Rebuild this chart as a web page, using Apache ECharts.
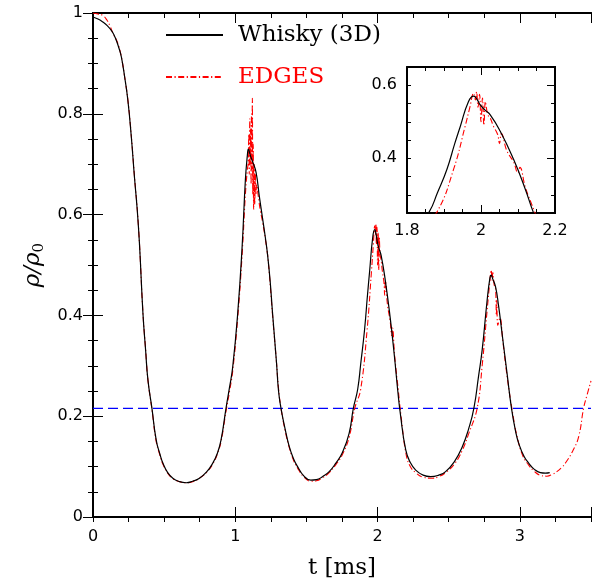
<!DOCTYPE html>
<html>
<head>
<meta charset="utf-8">
<script src="https://cdn.jsdelivr.net/npm/echarts@6/dist/echarts.min.js"></script>
<style>
html,body{margin:0;padding:0;background:#fff;}
#chart{width:598px;height:587px;}
</style>
</head>
<body>
<div id="chart"></div>
<script>
// ---- data (t in ms, rho/rho0) ----
const whiskyT = [0.000,0.035,0.070,0.100,0.130,0.150,0.165,0.185,0.200,0.222,0.245,0.269,0.292,0.311,0.327,0.351,0.370,0.386,0.414,0.444,0.470,0.491,0.525,0.561,0.600,0.655,0.700,0.748,0.800,0.842,0.875,0.900,0.935,0.960,0.982,1.017,1.048,1.071,1.085,1.092,1.105,1.122,1.146,1.169,1.192,1.211,1.227,1.245,1.262,1.290,1.304,1.321,1.350,1.379,1.410,1.438,1.480,1.531,1.570,1.613,1.660,1.707,1.753,1.800,1.830,1.860,1.882,1.908,1.929,1.944,1.966,1.980,1.990,1.998,2.011,2.025,2.052,2.088,2.118,2.141,2.160,2.198,2.230,2.268,2.320,2.373,2.430,2.478,2.540,2.595,2.640,2.677,2.710,2.735,2.770,2.790,2.798,2.810,2.829,2.850,2.875,2.910,2.941,2.970,2.992,3.030,3.062,3.100,3.144,3.180,3.210];
const whiskyRho = [0.992,0.988,0.982,0.975,0.965,0.955,0.945,0.928,0.912,0.874,0.827,0.755,0.672,0.609,0.540,0.404,0.330,0.272,0.216,0.153,0.125,0.107,0.088,0.077,0.071,0.068,0.071,0.077,0.090,0.107,0.127,0.153,0.216,0.258,0.298,0.404,0.536,0.669,0.718,0.730,0.718,0.705,0.684,0.636,0.592,0.555,0.520,0.468,0.404,0.305,0.250,0.216,0.175,0.140,0.115,0.100,0.082,0.073,0.074,0.080,0.090,0.107,0.128,0.166,0.216,0.253,0.305,0.370,0.440,0.487,0.555,0.570,0.560,0.546,0.532,0.519,0.474,0.397,0.320,0.253,0.205,0.133,0.108,0.093,0.083,0.080,0.083,0.090,0.110,0.139,0.175,0.216,0.280,0.331,0.430,0.475,0.480,0.472,0.457,0.420,0.364,0.285,0.216,0.170,0.146,0.120,0.107,0.095,0.088,0.087,0.088];

const edgesT = [0.000,0.035,0.070,0.100,0.117,0.140,0.165,0.180,0.200,0.222,0.245,0.269,0.292,0.311,0.327,0.351,0.370,0.386,0.414,0.444,0.470,0.491,0.525,0.561,0.600,0.655,0.700,0.748,0.800,0.842,0.875,0.900,0.935,0.960,0.982,1.017,1.048,1.071,1.085,1.090,1.095,1.098,1.102,1.105,1.108,1.111,1.114,1.117,1.120,1.123,1.126,1.129,1.133,1.137,1.141,1.146,1.150,1.160,1.175,1.192,1.211,1.230,1.262,1.290,1.304,1.321,1.350,1.379,1.410,1.438,1.480,1.531,1.570,1.613,1.660,1.707,1.753,1.800,1.840,1.881,1.926,1.957,1.970,1.980,1.985,1.988,1.992,1.996,2.000,2.004,2.008,2.012,2.018,2.025,2.034,2.045,2.050,2.055,2.070,2.088,2.100,2.105,2.120,2.145,2.165,2.200,2.230,2.268,2.320,2.384,2.430,2.478,2.540,2.595,2.640,2.700,2.735,2.770,2.790,2.798,2.805,2.810,2.820,2.829,2.835,2.838,2.845,2.860,2.880,2.910,2.950,2.980,3.020,3.062,3.100,3.140,3.190,3.230,3.260,3.300,3.320,3.370,3.413,3.448,3.470,3.500];
const edgesRho = [1.000,0.998,0.995,0.985,0.976,0.960,0.946,0.935,0.912,0.874,0.828,0.757,0.674,0.611,0.540,0.405,0.332,0.272,0.214,0.150,0.123,0.105,0.087,0.076,0.071,0.068,0.070,0.077,0.089,0.105,0.126,0.150,0.210,0.250,0.290,0.395,0.520,0.640,0.690,0.700,0.760,0.680,0.790,0.700,0.770,0.660,0.800,0.690,0.831,0.640,0.740,0.610,0.700,0.620,0.680,0.640,0.660,0.640,0.610,0.585,0.552,0.512,0.400,0.305,0.255,0.216,0.172,0.138,0.112,0.097,0.080,0.071,0.072,0.078,0.088,0.104,0.124,0.158,0.216,0.253,0.370,0.487,0.540,0.578,0.560,0.582,0.540,0.575,0.500,0.565,0.490,0.555,0.520,0.510,0.487,0.465,0.440,0.468,0.420,0.390,0.360,0.375,0.320,0.253,0.200,0.125,0.100,0.088,0.079,0.077,0.080,0.088,0.105,0.132,0.165,0.216,0.300,0.410,0.470,0.490,0.470,0.485,0.460,0.455,0.400,0.430,0.380,0.395,0.350,0.280,0.205,0.160,0.122,0.103,0.091,0.083,0.081,0.085,0.090,0.100,0.107,0.130,0.159,0.216,0.240,0.270];

const thresholdT = [0, 3.5];
const thresholdRho = [0.2155, 0.2155];

const mainXTicks = [0, 1, 2, 3];
const insetYLabels = [0.4, 0.6];

const zip = (a, b) => a.map((t, i) => [t, b[i]]);
const whisky = zip(whiskyT, whiskyRho);
const edges = zip(edgesT, edgesRho);
const threshold = zip(thresholdT, thresholdRho);

const labelFont = {fontFamily: 'DejaVu Sans', fontSize: 16, color: '#000'};
const frame = {show: true, lineStyle: {color: '#000', width: 2}};
const near = (v, arr) => arr.some(a => Math.abs(a - v) < 1e-6);

function xAx(o) {
  return Object.assign({
    type: 'value', gridIndex: 0, min: 0, max: 3.5,
    axisLine: frame, splitLine: {show: false},
    axisTick: {show: true, inside: true, length: 10, lineStyle: {color: '#000', width: 1}},
    axisLabel: {show: false}
  }, o);
}
function yAx(o) {
  return Object.assign({
    type: 'value', gridIndex: 0, min: 0, max: 1,
    axisLine: frame, splitLine: {show: false},
    axisTick: {show: true, inside: true, length: 10, lineStyle: {color: '#000', width: 1}},
    axisLabel: {show: false}
  }, o);
}

const redStyle = {color: '#ff0000', width: 1.1, type: [6, 2.5, 1.2, 2.5]};
const blackStyle = {color: '#000', width: 1.2};

const chart = echarts.init(document.getElementById('chart'), null, {renderer: 'canvas'});
chart.setOption({
  animation: false,
  backgroundColor: '#fff',
  grid: [
    {left: 93, top: 13, width: 498, height: 504},
    {left: 407, top: 67, width: 148, height: 146}
  ],
  legend: {
    orient: 'vertical', left: 165, top: 22, padding: 0, itemWidth: 57, itemHeight: 14, itemGap: 16,
    itemStyle: {opacity: 0},
    textStyle: {fontFamily: 'DejaVu Serif', fontSize: 23, lineHeight: 26, color: '#000', padding: [0, 0, 0, 10]},
    data: [
      {name: 'Whisky (3D)'},
      {name: 'EDGES', textStyle: {color: '#ff0000'}}
    ]
  },
  xAxis: [
    xAx({interval: 1, axisLabel: Object.assign({show: true, margin: 12, formatter: v => near(v, mainXTicks) ? String(v) : ''}, labelFont),
      name: 't [ms]', nameLocation: 'middle', nameGap: 40,
      nameTextStyle: {fontFamily: 'DejaVu Serif', fontSize: 23, color: '#000'}}),
    xAx({interval: 0.25, axisTick: {show: true, inside: true, length: 5, lineStyle: {color: '#000'}}}),
    xAx({position: 'top', interval: 1}),
    xAx({position: 'top', interval: 0.25, axisTick: {show: true, inside: true, length: 5, lineStyle: {color: '#000'}}}),
    // inset
    xAx({gridIndex: 1, min: 1.8, max: 2.2, interval: 0.2, axisTick: {show: true, inside: true, length: 8, lineStyle: {color: '#000'}},
      minorTick: {show: true, splitNumber: 4, length: 4, lineStyle: {color: '#000'}},
      axisLabel: Object.assign({show: true, margin: 10}, labelFont)}),
    xAx({gridIndex: 1, position: 'top', min: 1.8, max: 2.2, interval: 0.2, axisTick: {show: true, inside: true, length: 8, lineStyle: {color: '#000'}},
      minorTick: {show: true, splitNumber: 4, length: 4, lineStyle: {color: '#000'}}})
  ],
  yAxis: [
    yAx({interval: 0.2, minorTick: {show: true, splitNumber: 4, length: 5, lineStyle: {color: '#000'}},
      axisLabel: Object.assign({show: true, margin: 10}, labelFont),
      name: '{a|ρ/ρ}{b|0}', nameLocation: 'middle', nameGap: 45, nameRotate: 90,
      nameTextStyle: {rich: {
        a: {fontFamily: 'DejaVu Serif', fontSize: 23, fontStyle: 'italic', color: '#000', lineHeight: 30, verticalAlign: 'middle'},
        b: {fontFamily: 'DejaVu Serif', fontSize: 15, color: '#000', lineHeight: 30, padding: [12, 0, 0, 0], verticalAlign: 'middle'}
      }}}),
    yAx({position: 'right', interval: 0.2, minorTick: {show: true, splitNumber: 4, length: 5, lineStyle: {color: '#000'}}}),
    // inset
    yAx({gridIndex: 1, min: 0.25, max: 0.65, interval: 0.05,
      axisTick: {show: true, inside: true, length: 4, lineStyle: {color: '#000'}},
      axisLabel: Object.assign({show: true, margin: 10, formatter: v => near(v, insetYLabels) ? String(Math.round(v * 10) / 10) : ''}, labelFont)}),
    yAx({gridIndex: 1, min: 0.25, max: 0.65, interval: 0.05,
      axisTick: {show: true, inside: true, length: 8, customValues: insetYLabels, lineStyle: {color: '#000'}}}),
    yAx({gridIndex: 1, position: 'right', min: 0.25, max: 0.65, interval: 0.05,
      axisTick: {show: true, inside: true, length: 4, lineStyle: {color: '#000'}}}),
    yAx({gridIndex: 1, position: 'right', min: 0.25, max: 0.65, interval: 0.05,
      axisTick: {show: true, inside: true, length: 8, customValues: insetYLabels, lineStyle: {color: '#000'}}})
  ],
  series: [
    {name: 'threshold', type: 'line', xAxisIndex: 0, yAxisIndex: 0, data: threshold, symbol: 'none',
      lineStyle: {color: '#0000ff', width: 1.3, type: [10, 5]}, silent: true},
    {name: 'EDGES', type: 'line', xAxisIndex: 0, yAxisIndex: 0, data: edges, symbol: 'none',
      smooth: 0.45, itemStyle: {color: '#ff0000'}, lineStyle: redStyle},
    {name: 'Whisky (3D)', type: 'line', xAxisIndex: 0, yAxisIndex: 0, data: whisky, symbol: 'none',
      smooth: 0.5, itemStyle: {color: '#000'}, lineStyle: blackStyle},
    {name: 'EDGES', type: 'line', xAxisIndex: 4, yAxisIndex: 2, data: edges, symbol: 'none', clip: true,
      smooth: 0.45, itemStyle: {color: '#ff0000'}, lineStyle: redStyle},
    {name: 'Whisky (3D)', type: 'line', xAxisIndex: 4, yAxisIndex: 2, data: whisky, symbol: 'none', clip: true,
      smooth: 0.5, itemStyle: {color: '#000'}, lineStyle: blackStyle}
  ]
});
</script>
</body>
</html>
